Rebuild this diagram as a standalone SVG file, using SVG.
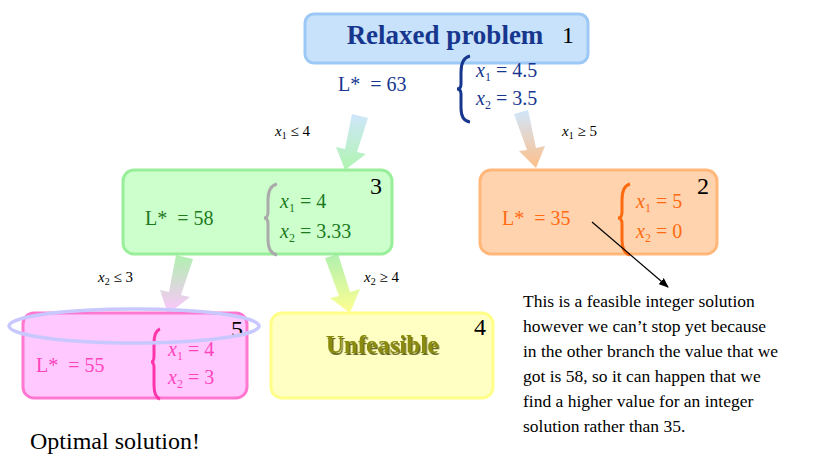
<svg xmlns="http://www.w3.org/2000/svg" width="835" height="460" viewBox="0 0 835 460">
<defs>
<linearGradient id="gbg" x1="0" y1="0" x2="0" y2="1"><stop offset="0" stop-color="#cfe6fb"/><stop offset="1" stop-color="#b0f5b0"/></linearGradient>
<linearGradient id="gbo" x1="0" y1="0" x2="0" y2="1"><stop offset="0" stop-color="#cfe6fb"/><stop offset="1" stop-color="#ffbf8a"/></linearGradient>
<linearGradient id="ggp" x1="0" y1="0" x2="0" y2="1"><stop offset="0" stop-color="#b0f0b0"/><stop offset="1" stop-color="#ffc4ff"/></linearGradient>
<linearGradient id="ggy" x1="0" y1="0" x2="0" y2="1"><stop offset="0" stop-color="#b0f0b0"/><stop offset="1" stop-color="#ffff90"/></linearGradient>
<marker id="ah" markerWidth="10" markerHeight="8" refX="9" refY="4" orient="auto" markerUnits="userSpaceOnUse"><path d="M0,0 L10,4 L0,8 z" fill="#000"/></marker>
<filter id="sh" x="-10%" y="-20%" width="120%" height="150%"><feDropShadow dx="1.5" dy="2" stdDeviation="0.5" flood-color="#444400" flood-opacity="0.8"/></filter>
</defs>
<style>
text{font-family:"Liberation Serif",serif}
.m{font-style:italic}
.n{font-size:24px;fill:#000}
.v{font-size:20px}
.lab{font-size:15px;fill:#000}
.box{stroke-width:3}
.br{fill:none;stroke-width:3}
</style>
<rect width="835" height="460" fill="#fff"/>
<g id="arrows">
<path d="M352,114 L368,118 L357,152 L366,154 L345,170 L336,147 L345,149 Z" fill="url(#gbg)"/>
<path d="M514,114 L528,110 L536,148 L545,146 L536,168 L519,151 L527,150 Z" fill="url(#gbo)"/>
<path d="M176,255 L193,259 L181,295 L190,297 L168,314 L160,290 L169,292 Z" fill="url(#ggp)"/>
<path d="M325,258 L338,254 L350,292 L360,289 L350,313 L330,298 L339,296 Z" fill="url(#ggy)"/>
<text class="lab" x="275" y="136"><tspan class="m">x</tspan><tspan font-size="10" dy="3">1</tspan><tspan dy="-3"> ≤ 4</tspan></text>
<text class="lab" x="562" y="136"><tspan class="m">x</tspan><tspan font-size="10" dy="3">1</tspan><tspan dy="-3"> ≥ 5</tspan></text>
<text class="lab" x="98" y="282"><tspan class="m">x</tspan><tspan font-size="10" dy="3">2</tspan><tspan dy="-3"> ≤ 3</tspan></text>
<text class="lab" x="364" y="282"><tspan class="m">x</tspan><tspan font-size="10" dy="3">2</tspan><tspan dy="-3"> ≥ 4</tspan></text>
</g>
<g id="n1">
<rect class="box" x="305" y="14" width="283" height="49" rx="9" fill="#c8e2fb" stroke="#9cc8f5"/>
<text x="445" y="44" text-anchor="middle" font-size="27" font-weight="bold" fill="#17378f">Relaxed problem</text>
<text class="n" x="562" y="43">1</text>
<text class="v" x="338" y="91" fill="#17378f" xml:space="preserve">L*  = 63</text>
<path class="br" d="M470,56 Q461,58 461,72 L461,84 Q461,89 457,89 Q461,89 461,94 L461,108 Q461,121 470,122" stroke="#17378f"/>
<text class="v" x="476" y="77" fill="#17378f"><tspan class="m">x</tspan><tspan font-size="12" dy="4">1</tspan><tspan dy="-4"> = 4.5</tspan></text>
<text class="v" x="476" y="105" fill="#17378f"><tspan class="m">x</tspan><tspan font-size="12" dy="4">2</tspan><tspan dy="-4"> = 3.5</tspan></text>
</g>
<g id="n3">
<rect class="box" x="123" y="170" width="269" height="84" rx="11" fill="#ccffcc" stroke="#99ee99"/>
<text class="v" x="145" y="225" fill="#1d7a1d" xml:space="preserve">L*  = 58</text>
<path class="br" d="M277,184 Q268,186 268,200 L268,212 Q268,218 264,218 Q268,218 268,224 L268,240 Q268,253 277,255" stroke="#aaaaaa"/>
<text class="v" x="280" y="208" fill="#1d7a1d"><tspan class="m">x</tspan><tspan font-size="12" dy="4">1</tspan><tspan dy="-4"> = 4</tspan></text>
<text class="v" x="280" y="238" fill="#1d7a1d"><tspan class="m">x</tspan><tspan font-size="12" dy="4">2</tspan><tspan dy="-4"> = 3.33</tspan></text>
<text class="n" x="370" y="194">3</text>
</g>
<g id="n2">
<rect class="box" x="480" y="170" width="237" height="84" rx="11" fill="#ffd3ad" stroke="#ffb77a"/>
<text class="v" x="502" y="225" fill="#ff6a10" xml:space="preserve">L*  = 35</text>
<path class="br" d="M630,184 Q622,186 622,200 L622,212 Q622,218 618,218 Q622,218 622,224 L622,240 Q622,253 630,255" stroke="#ff6a10"/>
<text class="v" x="636" y="208" fill="#ff6a10"><tspan class="m">x</tspan><tspan font-size="12" dy="4">1</tspan><tspan dy="-4"> = 5</tspan></text>
<text class="v" x="636" y="238" fill="#ff6a10"><tspan class="m">x</tspan><tspan font-size="12" dy="4">2</tspan><tspan dy="-4"> = 0</tspan></text>
<text class="n" x="697" y="194">2</text>
</g>
<g id="n5">
<rect class="box" x="23" y="313" width="224" height="85" rx="11" fill="#ffc8ff" stroke="#ff77d0"/>
<text class="v" x="36" y="372" fill="#ff44bb" xml:space="preserve">L*  = 55</text>
<path class="br" d="M160,329 Q154,331 154,344 L154,356 Q154,362 151,362 Q154,362 154,368 L154,385 Q154,397 160,399" stroke="#ff33aa"/>
<text class="v" x="168" y="356" fill="#ff44bb"><tspan class="m">x</tspan><tspan font-size="12" dy="4">1</tspan><tspan dy="-4"> = 4</tspan></text>
<text class="v" x="168" y="384" fill="#ff44bb"><tspan class="m">x</tspan><tspan font-size="12" dy="4">2</tspan><tspan dy="-4"> = 3</tspan></text>
<text class="n" x="231" y="337">5</text>
<ellipse cx="134" cy="326" rx="125" ry="17" fill="none" stroke="#c8c8ff" stroke-width="3.5"/>
</g>
<g id="n4">
<rect class="box" x="271" y="313" width="222" height="85" rx="11" fill="#ffffc4" stroke="#ffff88"/>
<text x="382" y="353" text-anchor="middle" font-size="25" font-weight="bold" fill="#8a8a10" filter="url(#sh)">Unfeasible</text>
<text class="n" x="474" y="335">4</text>
</g>
<g id="connectors">
<line x1="592" y1="222" x2="668" y2="287" stroke="#000" stroke-width="1.2" marker-end="url(#ah)"/>
</g>
<g id="notes">
<text x="523" y="307" font-size="17.5">This is a feasible integer solution</text>
<text x="523" y="332" font-size="17.5">however we can’t stop yet because</text>
<text x="523" y="357" font-size="17.5">in the other branch the value that we</text>
<text x="523" y="382" font-size="17.5">got is 58, so it can happen that we</text>
<text x="523" y="407" font-size="17.5">find a higher value for an integer</text>
<text x="523" y="432" font-size="17.5">solution rather than 35.</text>
<text x="30" y="449" font-size="24">Optimal solution!</text>
</g>
</svg>
